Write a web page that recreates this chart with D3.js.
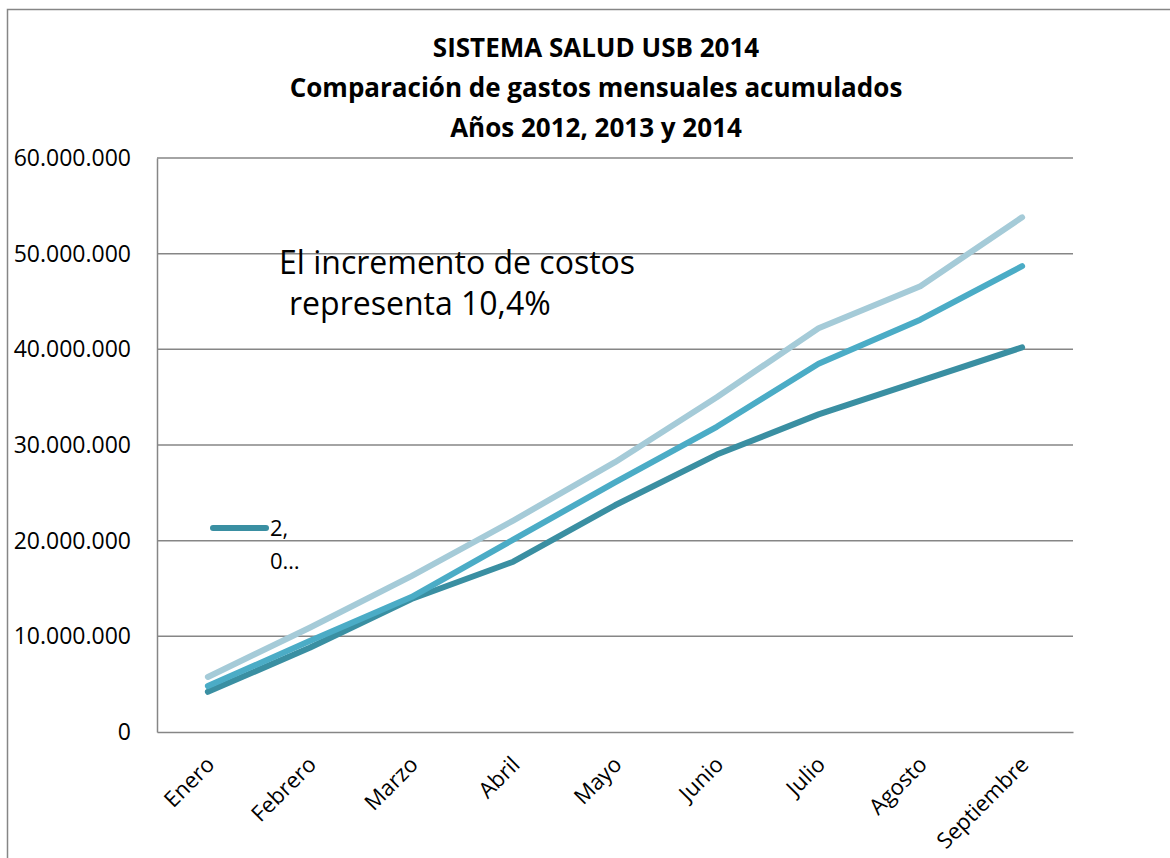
<!DOCTYPE html>
<html>
<head>
<meta charset="utf-8">
<script src="https://cdn.jsdelivr.net/npm/d3@7"></script>
<style>
  body { margin: 0; background: #fff; }
  text { font-family: "Open Sans", sans-serif; fill: #000; }
</style>
</head>
<body>
<div class="chart"></div>
<script>
// data
var months = ["Enero", "Febrero", "Marzo", "Abril", "Mayo", "Junio", "Julio", "Agosto", "Septiembre"];
var serie2012 = [4200000, 8800000, 13900000, 17800000, 23700000, 29000000, 33200000, 36700000, 40200000];
var serie2013 = [4800000, 9500000, 14100000, 20100000, 26100000, 31900000, 38500000, 43100000, 48700000];
var serie2014 = [5750000, 10900000, 16300000, 22100000, 28200000, 35000000, 42200000, 46600000, 53800000];
var yTicks = [0, 10000000, 20000000, 30000000, 40000000, 50000000, 60000000];
var titleLines = ["SISTEMA SALUD USB 2014", "Comparación de gastos mensuales acumulados", "Años 2012, 2013 y 2014"];

var series = [
  { name: "2012", values: serie2012, color: "#3a8fa2" },
  { name: "2013", values: serie2013, color: "#4bacc6" },
  { name: "2014", values: serie2014, color: "#a5cbd8" }
];

var svgWidth = 1170;
var svgHeight = 858;

var margin = { top: 158, right: 97, bottom: 126, left: 157 };
var width = svgWidth - margin.left - margin.right;
var height = svgHeight - margin.top - margin.bottom;

var svg = d3.select(".chart")
  .append("svg")
  .attr("width", svgWidth)
  .attr("height", svgHeight);

// outer chart border
svg.append("rect")
  .attr("x", 7.5)
  .attr("y", 9.5)
  .attr("width", 1200)
  .attr("height", 900)
  .attr("fill", "none")
  .attr("stroke", "#868686")
  .attr("stroke-width", 1.5);

// title
svg.append("g").selectAll("text")
  .data(titleLines)
  .enter()
  .append("text")
  .attr("x", 596)
  .attr("y", (d, i) => 57 + i * 40)
  .attr("text-anchor", "middle")
  .style("font-size", "26px")
  .style("font-weight", "bold")
  .text(d => d);

var chartGroup = svg.append("g")
  .attr("transform", `translate(${margin.left}, ${margin.top})`);

var xScale = d3.scaleBand()
  .domain(months)
  .range([0, width]);

var yScale = d3.scaleLinear()
  .domain([0, 60000000])
  .range([height, 0]);

var fmt = v => v === 0 ? "0" : d3.format(",")(v).replace(/,/g, ".");

// gridlines
chartGroup.append("g")
  .selectAll("line")
  .data(yTicks.slice(1))
  .enter()
  .append("line")
  .attr("x1", 0)
  .attr("x2", width)
  .attr("y1", d => yScale(d))
  .attr("y2", d => yScale(d))
  .attr("stroke", "#868686")
  .attr("stroke-width", 1.5);

// y axis
var leftAxis = d3.axisLeft(yScale)
  .tickValues(yTicks)
  .tickFormat(fmt)
  .tickSize(0)
  .tickPadding(26);

var yAxis = chartGroup.append("g").call(leftAxis);
yAxis.select(".domain").attr("stroke", "#868686").attr("stroke-width", 1.5);
yAxis.selectAll("text")
  .style("font-size", "23px")
  .style("font-family", "'Open Sans', sans-serif")
  .attr("fill", "#000");

// x axis
var bottomAxis = d3.axisBottom(xScale).tickSize(0).tickPadding(0);
var xAxis = chartGroup.append("g")
  .attr("transform", `translate(0, ${height})`)
  .call(bottomAxis);
xAxis.select(".domain").attr("stroke", "#868686").attr("stroke-width", 1.5);
xAxis.selectAll("text")
  .style("font-size", "22px")
  .style("font-family", "'Open Sans', sans-serif")
  .attr("fill", "#000")
  .attr("text-anchor", "end")
  .attr("dy", 0)
  .attr("transform", "translate(8, 34) rotate(-45)");

// lines
var line = d3.line()
  .x((d, i) => xScale(months[i]) + xScale.bandwidth() / 2)
  .y(d => yScale(d));

chartGroup.selectAll(".serie")
  .data(series)
  .enter()
  .append("path")
  .attr("class", "serie")
  .attr("d", d => line(d.values))
  .attr("fill", "none")
  .attr("stroke", d => d.color)
  .attr("stroke-width", 6)
  .attr("stroke-linecap", "round")
  .attr("stroke-linejoin", "round");

// annotation
svg.append("text")
  .attr("x", 279)
  .attr("y", 274)
  .style("font-size", "32px")
  .text("El incremento de costos");
svg.append("text")
  .attr("x", 289)
  .attr("y", 315)
  .style("font-size", "32px")
  .text("representa 10,4%");

// truncated legend
svg.append("line")
  .attr("x1", 213)
  .attr("x2", 266)
  .attr("y1", 528)
  .attr("y2", 528)
  .attr("stroke", series[0].color)
  .attr("stroke-width", 6)
  .attr("stroke-linecap", "round");
svg.append("text")
  .attr("x", 270)
  .attr("y", 536)
  .style("font-size", "22px")
  .text("2,");
svg.append("text")
  .attr("x", 270)
  .attr("y", 569)
  .style("font-size", "22px")
  .text("0…");
</script>
</body>
</html>
